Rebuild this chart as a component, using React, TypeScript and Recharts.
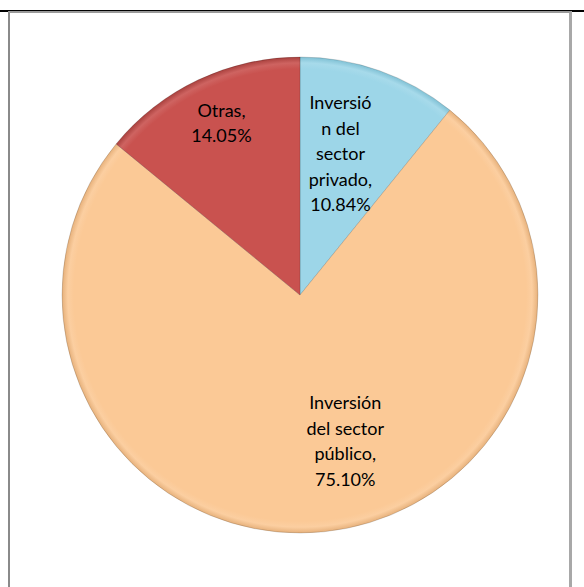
import { PieChart, Pie, Cell } from "recharts";

// Distribución de la inversión (%)
const labels = ["Inversión del sector privado", "Inversión del sector público", "Otras"];
const values = [10.84, 75.1, 14.05];
const colors = ["#9dd6e8", "#fbc996", "#c9524f"];
const edgeColors = ["#7fc0d4", "#e6b07a", "#a8403d"];
// texto de las etiquetas, línea por línea (como en el original)
const labelLines = [
  ["Inversió", "n del", "sector", "privado,", "10.84%"],
  ["Inversión", "del sector", "público,", "75.10%"],
  ["Otras,", "14.05%"],
];

const data = labels.map((name, i) => ({ name, value: values[i] }));

// posición de cada etiqueta relativa al centro (fracción del radio)
const labelPos = [
  { dx: 0.17, dy: -0.595 },
  { dx: 0.19, dy: 0.612 },
  { dx: -0.33, dy: -0.725 },
];

const CX = 300;
const CY = 295;
const R = 238;

const renderLabel = (props: any) => {
  const { cx, cy, outerRadius, index } = props;
  const lines = labelLines[index];
  const p = labelPos[index];
  const lh = 25.5;
  const x = cx + p.dx * outerRadius;
  const y0 = cy + p.dy * outerRadius - ((lines.length - 1) * lh) / 2;
  return (
    <text
      x={x}
      y={y0}
      textAnchor="middle"
      dominantBaseline="central"
      fill="#000"
      fontSize={18}
      fontFamily="Lato, 'Noto Sans', sans-serif"
    >
      {lines.map((l, i) => (
        <tspan key={i} x={x} y={y0 + i * lh}>
          {l}
        </tspan>
      ))}
    </text>
  );
};

export default function App() {
  return (
    <div style={{ position: "fixed", top: 0, left: 0, width: 584, height: 587, background: "#fff", overflow: "hidden" }}>
      {/* marco de la tabla */}
      <div style={{ position: "absolute", top: 10, left: 0, width: 584, height: 2, background: "#000" }} />
      <div
        style={{
          position: "absolute",
          top: 11,
          left: 8,
          width: 559,
          height: 574,
          borderLeft: "2px solid #8a8a8a",
          borderTop: "2px solid #9a9a9a",
          borderRight: "3px solid #a8a8a8",
          borderBottom: "1px solid #dcdcdc",
        }}
      />
      <div style={{ position: "absolute", top: 0, left: 0 }}>
        <PieChart width={584} height={587} margin={{ top: 0, right: 0, bottom: 0, left: 0 }}>
          <defs>
            {colors.map((c, i) => (
              <radialGradient key={i} id={`bev${i}`} gradientUnits="userSpaceOnUse" cx={CX} cy={CY} r={R}>
                <stop offset="0%" stopColor={c} />
                <stop offset="95%" stopColor={c} />
                <stop offset="97.5%" stopColor={c} stopOpacity={0.9} />
                <stop offset="100%" stopColor={edgeColors[i]} />
              </radialGradient>
            ))}
          </defs>
          <Pie
            data={data}
            dataKey="value"
            nameKey="name"
            cx={CX}
            cy={CY}
            outerRadius={R}
            startAngle={90}
            endAngle={-270}
            stroke="rgba(0,0,0,0.15)"
            strokeWidth={1}
            labelLine={false}
            label={renderLabel}
            isAnimationActive={false}
          >
            {data.map((d, i) => (
              <Cell key={d.name} fill={`url(#bev${i})`} />
            ))}
          </Pie>
        </PieChart>
      </div>
    </div>
  );
}
